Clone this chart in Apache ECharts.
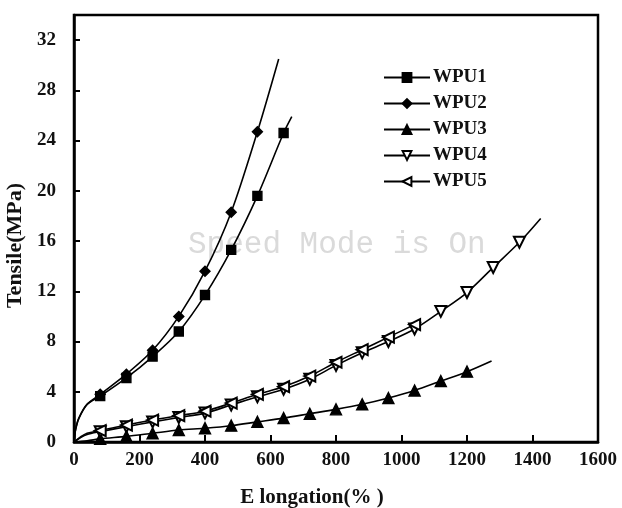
<!DOCTYPE html>
<html>
<head>
<meta charset="utf-8">
<script src="https://cdn.jsdelivr.net/npm/echarts@6/dist/echarts.min.js"></script>
<style>
  html, body { margin: 0; padding: 0; background: #fff; }
  #chart { width: 622px; height: 508px; }
</style>
</head>
<body>
<div id="chart"></div>
<script>
// elongation (%) / tensile (MPa)
const wpu1X = [0, 5, 15, 40, 80, 160, 240, 320, 400, 480, 560, 640, 665]
const wpu1Y = [0, 1.0, 1.9, 3.0, 3.65, 5.1, 6.8, 8.8, 11.7, 15.3, 19.6, 24.6, 25.9]
const wpu2X = [0, 5, 15, 40, 80, 160, 240, 320, 400, 480, 560, 625]
const wpu2Y = [0, 1.0, 1.9, 3.0, 3.8, 5.4, 7.3, 10.0, 13.6, 18.3, 24.7, 30.5]
const wpu3X = [0, 40, 80, 160, 240, 320, 400, 480, 560, 640, 720, 800, 880, 960, 1040, 1120, 1200, 1275]
const wpu3Y = [0, 0.1, 0.25, 0.45, 0.7, 0.95, 1.1, 1.3, 1.6, 1.9, 2.25, 2.6, 3.0, 3.5, 4.1, 4.85, 5.6, 6.45]
const wpu4X = [0, 20, 40, 80, 160, 240, 320, 400, 480, 560, 640, 720, 800, 880, 960, 1040, 1120, 1200, 1280, 1360, 1425]
const wpu4Y = [0, 0.35, 0.6, 0.82, 1.22, 1.6, 1.95, 2.3, 2.95, 3.6, 4.2, 5.0, 6.1, 7.1, 8.0, 9.0, 10.4, 11.9, 13.9, 15.9, 17.8]
const wpu5X = [0, 20, 40, 80, 160, 240, 320, 400, 480, 560, 640, 720, 800, 880, 960, 1040, 1060]
const wpu5Y = [0, 0.4, 0.7, 0.9, 1.35, 1.75, 2.1, 2.45, 3.1, 3.8, 4.4, 5.25, 6.35, 7.35, 8.35, 9.35, 9.6]

const names = ['WPU1', 'WPU2', 'WPU3', 'WPU4', 'WPU5']
const xTicks = [0, 200, 400, 600, 800, 1000, 1200, 1400, 1600]
const yTicks = [0, 4, 8, 12, 16, 20, 24, 28, 32]

// markers sit every 80 % of elongation
const markStep = 80
const pair = (xs, ys) => xs.map((x, i) => [x, ys[i]])

const serif = 'Liberation Serif'

const makeSeries = (name, data, symbol, size, rotate) => ({
  name: name,
  type: 'line',
  data: data,
  smooth: 0.3,
  showSymbol: true,
  showAllSymbol: true,
  symbol: symbol,
  symbolRotate: rotate,
  symbolSize: (v) => (v[0] > 0 && v[0] % markStep === 0 ? size : 0),
  lineStyle: { color: '#000', width: 1.6 },
  itemStyle: { color: '#000', borderColor: '#000', borderWidth: 1.4 },
  z: 3
})

const chart = echarts.init(document.getElementById('chart'), null, { renderer: 'canvas' })
chart.setOption({
  animation: false,
  backgroundColor: '#fff',
  grid: {
    left: 74, right: 24, top: 15, bottom: 66,
    outerBoundsMode: 'none',
    containLabel: false,
    show: true, borderColor: '#000', borderWidth: 2.5
  },
  legend: {
    orient: 'vertical',
    left: 378, top: 63,
    itemWidth: 46, itemHeight: 11,
    itemGap: 7,
    data: names,
    textStyle: { fontFamily: serif, fontSize: 19, fontWeight: 'bold', color: '#111', padding: [0, 0, 0, -2] }
  },
  xAxis: {
    type: 'value',
    min: 0, max: 1600, interval: 200,
    name: 'E longation(% )',
    nameLocation: 'middle',
    nameGap: 45,
    nameTextStyle: {
      fontFamily: serif, fontSize: 21, fontWeight: 'bold', color: '#111',
      padding: [0, 48, 0, 0]
    },
    axisLine: { lineStyle: { color: '#000', width: 2.5 } },
    axisTick: { inside: true, length: 7, lineStyle: { color: '#000', width: 2 } },
    axisLabel: {
      fontFamily: serif, fontSize: 19, fontWeight: 'bold', color: '#111', margin: 9,
      formatter: (v) => (xTicks.includes(v) ? String(v) : '')
    },
    splitLine: { show: false }
  },
  yAxis: {
    type: 'value',
    min: 0, max: 34, interval: 4,
    name: 'Tensile(MPa)',
    nameLocation: 'middle',
    nameGap: 46,
    nameTextStyle: {
      fontFamily: serif, fontSize: 22, fontWeight: 'bold', color: '#111',
      padding: [0, 34, 0, 0]
    },
    axisLine: { lineStyle: { color: '#000', width: 2.5 } },
    axisTick: { inside: true, length: 6, lineStyle: { color: '#000', width: 2 } },
    axisLabel: {
      fontFamily: serif, fontSize: 19, fontWeight: 'bold', color: '#111', margin: 18,
      showMaxLabel: false,
      formatter: (v) => (yTicks.includes(v) ? String(v) : '')
    },
    splitLine: { show: false }
  },
  graphic: [{
    type: 'text',
    left: 188, top: 229,
    z: 1,
    style: {
      text: 'Speed Mode is On',
      fontFamily: 'Liberation Mono',
      fontSize: 31,
      fill: '#dadada'
    }
  }],
  series: [
    makeSeries('WPU1', pair(wpu1X, wpu1Y), 'rect', 9, 0),
    makeSeries('WPU2', pair(wpu2X, wpu2Y), 'diamond', 10, 0),
    makeSeries('WPU3', pair(wpu3X, wpu3Y), 'triangle', 11, 0),
    makeSeries('WPU4', pair(wpu4X, wpu4Y), 'emptyTriangle', 11, 180),
    makeSeries('WPU5', pair(wpu5X, wpu5Y), 'emptyTriangle', 11, 90)
  ]
})
</script>
</body>
</html>
